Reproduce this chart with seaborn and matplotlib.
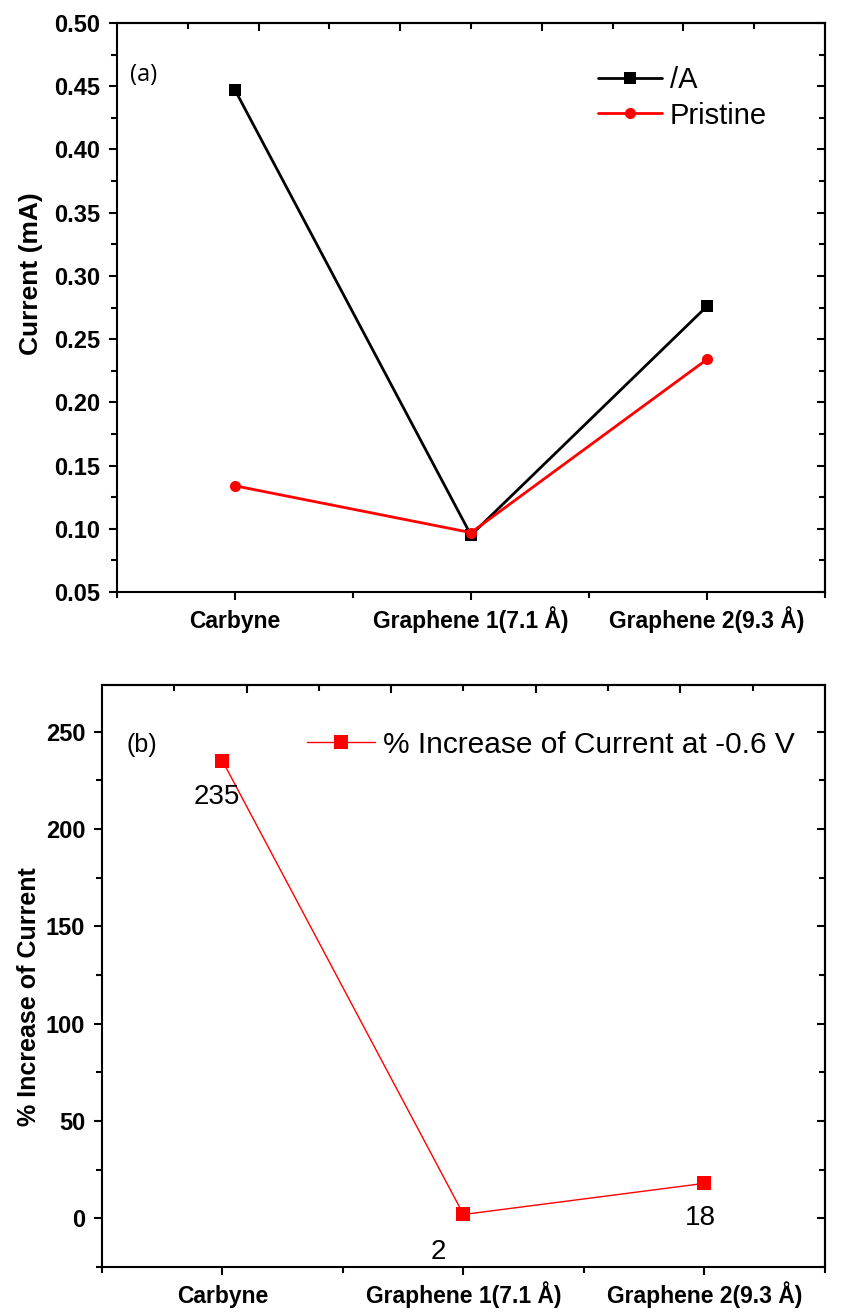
import numpy as np
import pandas as pd
import matplotlib
matplotlib.use("Agg")
import matplotlib.pyplot as plt
from matplotlib.ticker import MultipleLocator, FixedLocator, FormatStrFormatter
import seaborn as sns

# ---- data ----
categories = ["Carbyne", "Graphene 1(7.1 Å)", "Graphene 2(9.3 Å)"]
current_a = [0.447, 0.095, 0.276]          # /A
current_pristine = [0.134, 0.097, 0.234]   # Pristine
pct_increase = [235, 2, 18]                # % increase at -0.6 V
series_names = ["/A", "Pristine"]
pct_label = "% Increase of Current at -0.6 V"

sns.set_theme(style="ticks")
plt.rcParams["font.family"] = ["Liberation Sans", "DejaVu Sans"]
plt.rcParams.update({
    "axes.linewidth": 1.5,
    "text.color": "black",
    "axes.labelcolor": "black",
    "xtick.color": "black",
    "ytick.color": "black",
    "axes.edgecolor": "black",
})

fig = plt.figure(figsize=(8.52, 13.13), dpi=100)
ax1 = fig.add_axes([0.1373, 0.5491, 0.8310, 0.4334])
ax2 = fig.add_axes([0.1197, 0.0350, 0.8486, 0.4433])

x = np.arange(len(categories))
df_top = pd.DataFrame({
    "x": np.concatenate([x, x]),
    "current": current_a + current_pristine,
    "series": [series_names[0]] * 3 + [series_names[1]] * 3,
})
df_bot = pd.DataFrame({"x": x, "pct": pct_increase, "series": pct_label})


def style_axes(ax, ymajor, yminor, ylim, top_major, top_minor, yfmt=None):
    ax.set_xlim(-0.5, 2.5)
    ax.set_ylim(*ylim)
    ax.set_xticks(x)
    ax.set_xticklabels(categories, fontsize=16.5, fontweight="bold",
                       va="baseline")
    ax.xaxis.set_minor_locator(FixedLocator([-0.5, 0.5, 1.5, 2.5]))
    ax.yaxis.set_major_locator(MultipleLocator(ymajor))
    ax.yaxis.set_minor_locator(MultipleLocator(yminor))
    if yfmt:
        ax.yaxis.set_major_formatter(FormatStrFormatter(yfmt))
    ax.tick_params(axis="y", which="major", labelsize=17)
    for lab in ax.get_yticklabels():
        lab.set_fontweight("bold")
    ax.tick_params(axis="both", which="major", direction="out", length=6,
                   width=1.5, color="black")
    ax.tick_params(axis="both", which="minor", direction="out", length=4,
                   width=1.5, color="black")
    ax.tick_params(axis="y", which="major", pad=6)
    ax.tick_params(axis="x", which="major", pad=20)
    for s in ax.spines.values():
        s.set_color("black")
        s.set_linewidth(1.5)
    # mirrored inward ticks on the top and right edges
    top = ax.secondary_xaxis("top")
    top.set_xticks(top_major)
    top.set_xticks(top_minor, minor=True)
    top.tick_params(which="major", direction="in", length=6, width=1.5,
                    labeltop=False)
    top.tick_params(which="minor", direction="in", length=4, width=1.5)
    top.spines["top"].set_linewidth(1.5)
    right = ax.secondary_yaxis("right")
    right.yaxis.set_major_locator(MultipleLocator(ymajor))
    right.yaxis.set_minor_locator(MultipleLocator(yminor))
    right.tick_params(which="major", direction="in", length=6, width=1.5,
                      labelright=False)
    right.tick_params(which="minor", direction="in", length=4, width=1.5)
    right.spines["right"].set_linewidth(1.5)


top_major = [0.1, 0.7, 1.3, 1.9]
top_minor = [-0.2, 0.4, 1.0, 1.6, 2.2]

# ---- panel (a) ----
sns.lineplot(data=df_top, x="x", y="current", hue="series", style="series",
             palette={series_names[0]: "black", series_names[1]: "red"},
             markers={series_names[0]: "s", series_names[1]: "o"},
             dashes=False, markersize=8, markeredgewidth=0, linewidth=2,
             ax=ax1, legend=True)
style_axes(ax1, 0.05, 0.025, (0.05, 0.50), top_major, top_minor, "%.2f")
ax1.set_xlabel("")
ax1.set_ylabel("Current (mA)", fontsize=19, fontweight="bold")
ax1.yaxis.set_label_coords(-0.105, 0.56)
ax1.legend(loc="upper right", bbox_to_anchor=(0.955, 0.97),
           frameon=False, fontsize=21, handlelength=2.2,
           handletextpad=0.25, labelspacing=0.25)
ax1.text(0.018, 0.909, "(a)", transform=ax1.transAxes, fontsize=17,
         va="center", family=["Open Sans", "DejaVu Sans"])

# ---- panel (b) ----
sns.lineplot(data=df_bot, x="x", y="pct", hue="series",
             palette={pct_label: "red"}, marker="s", markersize=10,
             markeredgewidth=0, linewidth=1, ax=ax2, legend=True)
style_axes(ax2, 50, 25, (-25, 274), top_major, top_minor)
ax2.set_xlabel("")
ax2.set_ylabel("% Increase of Current", fontsize=18, fontweight="bold")
ax2.yaxis.set_label_coords(-0.085, 0.464)
ax2.legend(loc="center right", bbox_to_anchor=(0.995, 0.897), frameon=False,
           fontsize=21.5, handlelength=2.3, handletextpad=0.25)
ax2.text(0.034, 0.897, "(b)", transform=ax2.transAxes, fontsize=18,
         va="center")

label_offsets = [(-4, -26), (-18, -27), (-3, -25)]
for xi, val, off in zip(x, pct_increase, label_offsets):
    ax2.annotate(str(val), (xi, val), xytext=off, textcoords="offset points",
                 ha="center", va="center", fontsize=20)

fig.savefig("out.png", dpi=100)
